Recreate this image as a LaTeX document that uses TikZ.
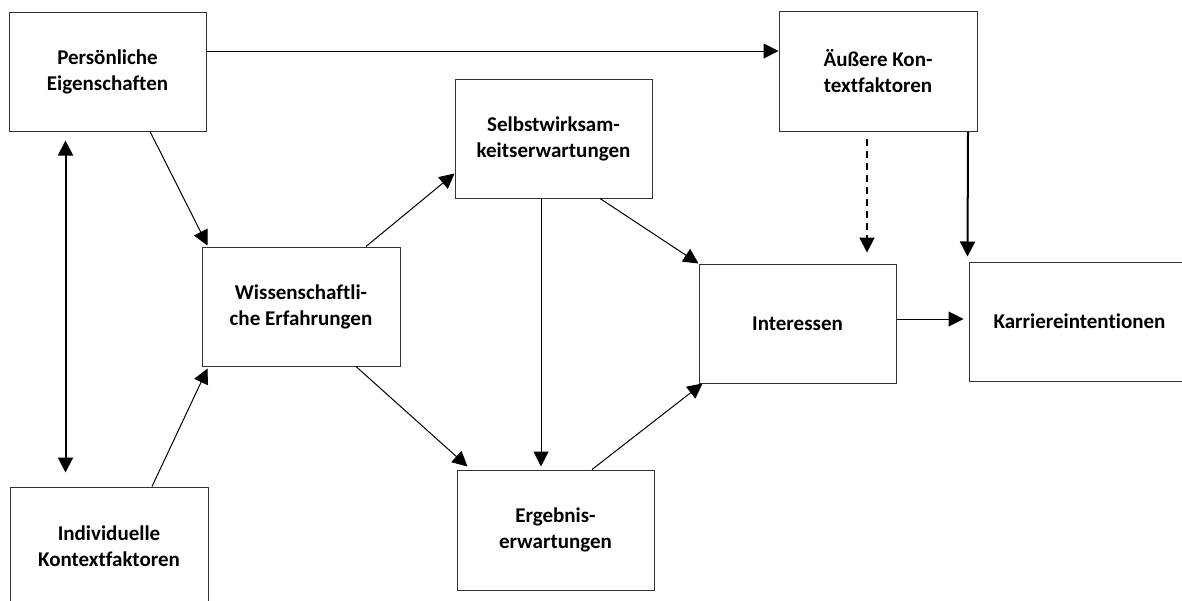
\documentclass[tikz,border=0pt]{standalone}
\usepackage{fontspec}
\setmainfont{Carlito}[Ligatures={NoCommon}]
\usetikzlibrary{arrows.meta}

\tikzset{
  box/.style={draw=black!80, line width=1pt, fill=white, align=center,
    inner sep=0pt, font=\fontsize{21}{26}\selectfont\bfseries},
  link/.style={line width=1pt, -{Triangle[length=15pt,width=15pt]}},
  thicklink/.style={line width=2pt, -{Triangle[length=15pt,width=15pt]}},
  bothlink/.style={line width=2pt, {Triangle[length=15pt,width=15pt]}-{Triangle[length=15pt,width=15pt]}},
  dashlink/.style={line width=2pt, dash pattern=on 7pt off 5pt, -{Triangle[length=15pt,width=15pt]}}
}

\begin{document}
\begin{tikzpicture}[x=1pt,y=-1pt]
  \clip (0,0) rectangle (1182,600);
  \fill[white] (0,0) rectangle (1182,600);

  % boxes of the model
  \node[box, minimum width=197pt, minimum height=119pt] (pers)   at (107.5,71.5)  {Persönliche\\Eigenschaften};
  \node[box, minimum width=198pt, minimum height=119pt] (indiv)  at (109,546.5)   {Individuelle\\Kontextfaktoren};
  \node[box, minimum width=198pt, minimum height=119pt] (wiss)   at (301,306.5)   {Wissenschaftli-\\che Erfahrungen};
  \node[box, minimum width=197pt, minimum height=119pt] (selbst) at (553.5,138.5) {Selbstwirksam-\\keitserwartungen};
  \node[box, minimum width=197pt, minimum height=120pt] (erg)    at (555.5,530)   {Ergebnis-\\erwartungen};
  \node[box, minimum width=197pt, minimum height=119pt] (int)    at (797.5,323.5) {Interessen};
  \node[box, minimum width=198pt, minimum height=120pt] (aus)    at (878,71.5)    {Äußere Kon-\\textfaktoren};
  \node[box, minimum width=221pt, minimum height=119pt] (karr)   at (1079.5,321.5){Karriereintentionen};

  % connectors
  \draw[link] ([yshift=20.5pt]pers.east) -- ([yshift=20.5pt]pers.east -| aus.west);
  \draw[bothlink] ([xshift=-42pt,yshift=-9pt]pers.south) -- ([xshift=-43.5pt,yshift=14pt]indiv.north);
  \draw[link] ([xshift=42.5pt]pers.south) -- ([xshift=6pt,yshift=1pt]wiss.north west);
  \draw[link] ([xshift=43pt]indiv.north) -- ([xshift=6pt,yshift=-2pt]wiss.south west);
  \draw[link] ([xshift=65pt]wiss.north) -- ([yshift=-35pt]selbst.west);
  \draw[link] ([xshift=55pt]wiss.south) -- ([xshift=11pt,yshift=3pt]erg.north west);
  \draw[link] ([xshift=-12.5pt]selbst.south) -- ([xshift=-14.5pt,yshift=3pt]erg.north);
  \draw[link] ([xshift=46.5pt]selbst.south) -- (int.north west);
  \draw[link] ([xshift=36.5pt]erg.north) -- ([xshift=4pt]int.south west);
  \draw[dashlink] ([xshift=-11pt,yshift=-7pt]aus.south) -- ([xshift=69.5pt,yshift=11pt]int.north);
  \draw[thicklink] ([xshift=90pt]aus.south) -- ([xshift=-1pt,yshift=5pt]karr.north west);
  \draw[link] ([yshift=4.5pt]int.east) -- ([xshift=-5pt,yshift=2.5pt]karr.west);
\end{tikzpicture}
\end{document}
